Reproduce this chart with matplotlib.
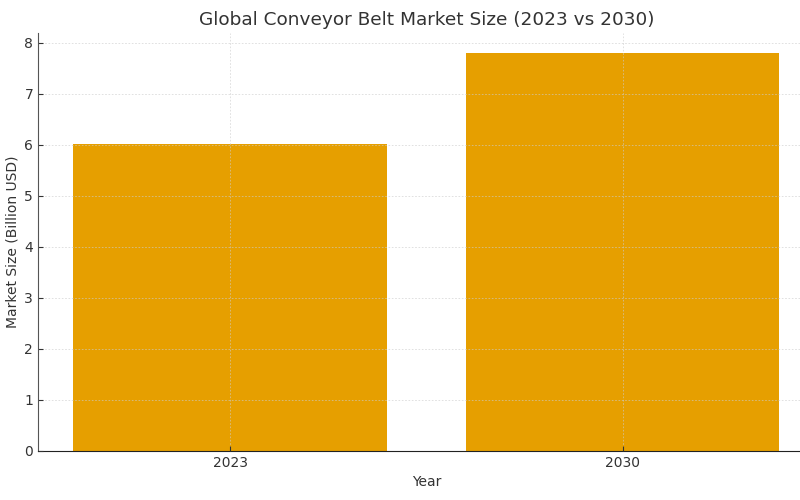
import matplotlib
matplotlib.use("Agg")
import matplotlib.pyplot as plt

years = ["2023", "2030"]
market_size = [6.02, 7.8]  # billion USD

fig = plt.figure(figsize=(8, 5), dpi=100)
ax = fig.add_axes([0.0475, 0.098, 0.971, 0.836])

ax.bar(years, market_size, color="#E69F00", width=0.8)
ax.grid(True, linestyle=(0, (2, 2)), linewidth=0.6, color="#cccccc", alpha=0.7)
ax.set_axisbelow(False)

ax.set_title("Global Conveyor Belt Market Size (2023 vs 2030)", fontsize=13.3, color="#333333")
ax.set_xlabel("Year", fontsize=10, color="#333333")
ax.set_ylabel("Market Size (Billion USD)", fontsize=10, color="#333333", labelpad=3.5)
ax.tick_params(colors="#333333", labelsize=10, direction="in")

ax.spines["top"].set_visible(False)
ax.spines["right"].set_visible(False)
ax.spines["left"].set_color("#555555")
ax.spines["bottom"].set_color("#222222")

fig.savefig("out.png", dpi=100)
